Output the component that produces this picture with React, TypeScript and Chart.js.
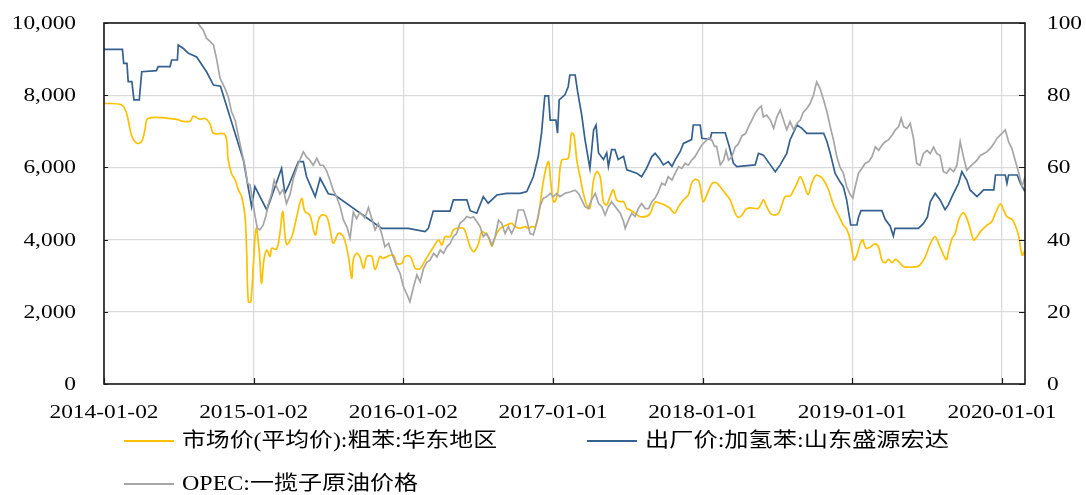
import React, { useEffect, useRef } from "react";
import { Chart, registerables } from "chart.js";

Chart.register(...registerables);

// x values are days elapsed since START_DATE
const START_DATE = "2014-01-02";
const X_MAX_DAY = 2246;

const tickDates = ["2014-01-02", "2015-01-02", "2016-01-02", "2017-01-01", "2018-01-01", "2019-01-01", "2020-01-01"];
const leftTicks = [0, 2000, 4000, 6000, 8000, 10000];
const rightTicks = [0, 20, 40, 60, 80, 100];

const seriesNames = ["市场价(平均价):粗苯:华东地区", "出厂价:加氢苯:山东盛源宏达", "OPEC:一揽子原油价格"];
const seriesColors = ["#FFC000", "#34618F", "#A6A6A6"];

// 市场价(平均价):粗苯:华东地区 — [day, yuan/t]
const crudeBenzene: [number, number][] = [
  [0, 7775], [43, 7730], [55, 7500], [67, 6900], [80, 6670], [92, 6720], [100, 7050], [108, 7360], [177, 7330], [190, 7280],
  [210, 7280], [218, 7420], [234, 7330], [246, 7360], [258, 7220], [267, 6945], [295, 6910], [303, 6200], [311, 5830], [320, 5650],
  [328, 5370], [336, 5180], [344, 4635], [348, 3620], [352, 2280], [358, 2280], [364, 3250], [371, 4310], [379, 3620], [384, 2790],
  [390, 3440], [397, 3710], [405, 3530], [409, 3760], [421, 3740], [429, 4180], [436, 4775], [445, 3870], [458, 4080], [470, 4635],
  [482, 5140], [490, 4775], [502, 4680], [515, 4130], [523, 4545], [531, 4680], [543, 4635], [551, 4310], [559, 3900], [572, 4175],
  [584, 4080], [596, 3530], [604, 2930], [608, 3440], [616, 3620], [624, 3530], [633, 3200], [641, 3530], [653, 3530], [661, 3170],
  [673, 3530], [681, 3480], [694, 3550], [706, 3570], [714, 3340], [726, 3340], [734, 3530], [747, 3530], [759, 3200], [771, 3200],
  [779, 3340], [791, 3570], [804, 3800], [816, 3990], [824, 3850], [832, 4080], [844, 4080], [852, 4270], [860, 4310], [877, 4310],
  [885, 4080], [893, 3800], [902, 3665], [913, 3880], [921, 4220], [929, 4175], [937, 4080], [946, 3820], [954, 4080], [966, 4310],
  [982, 4405], [994, 4450], [1002, 4360], [1015, 4310], [1027, 4360], [1035, 4310], [1043, 4360], [1051, 4360], [1059, 4635], [1067, 5280],
  [1075, 5835], [1084, 6160], [1089, 5650], [1096, 5050], [1102, 5100], [1108, 5420], [1116, 6200], [1132, 6250], [1140, 6945], [1146, 6900],
  [1153, 6200], [1161, 5740], [1169, 5280], [1177, 4960], [1185, 4865], [1194, 5650], [1202, 5880], [1210, 5740], [1218, 5050], [1226, 4960],
  [1234, 5190], [1242, 5375], [1250, 5100], [1259, 5050], [1267, 5050], [1275, 4865], [1283, 4820], [1295, 4730], [1307, 4635], [1324, 4650],
  [1332, 4730], [1344, 5050], [1352, 5020], [1368, 4960], [1380, 4870], [1391, 4730], [1401, 4910], [1413, 5100], [1425, 5240], [1433, 5560],
  [1441, 5670], [1451, 5610], [1458, 5190], [1462, 5050], [1470, 5240], [1482, 5540], [1492, 5580], [1502, 5470], [1515, 5280], [1527, 5100],
  [1539, 4730], [1547, 4615], [1556, 4680], [1565, 4840], [1576, 4880], [1596, 4870], [1608, 5100], [1616, 4910], [1625, 4730], [1635, 4680],
  [1645, 4730], [1653, 4960], [1661, 5190], [1673, 5210], [1682, 5375], [1690, 5560], [1698, 5740], [1706, 5560], [1717, 5250], [1726, 5560],
  [1736, 5780], [1747, 5740], [1755, 5650], [1767, 5375], [1779, 4960], [1792, 4660], [1803, 4400], [1811, 4300], [1820, 3990], [1829, 3435],
  [1836, 3570], [1844, 3880], [1850, 3990], [1858, 3760], [1868, 3790], [1880, 3880], [1889, 3790], [1897, 3435], [1905, 3360], [1913, 3450],
  [1922, 3360], [1930, 3450], [1938, 3390], [1950, 3250], [1982, 3250], [1990, 3300], [2003, 3530], [2015, 3880], [2027, 4080], [2039, 3790],
  [2054, 3450], [2059, 3660], [2068, 4030], [2076, 4175], [2084, 4540], [2095, 4745], [2104, 4590], [2112, 4310], [2121, 3990], [2129, 4080],
  [2137, 4220], [2154, 4405], [2165, 4500], [2174, 4730], [2186, 4985], [2194, 4820], [2202, 4635], [2214, 4560], [2222, 4405], [2231, 4080],
  [2239, 3570], [2246, 3710],
];

// 出厂价:加氢苯:山东盛源宏达 — [day, yuan/t]
const hydroBenzene: [number, number][] = [
  [0, 9270], [45, 9270], [48, 8880], [56, 8880], [59, 8375], [68, 8375], [73, 7870], [86, 7870], [92, 8650], [128, 8680],
  [132, 8790], [161, 8790], [165, 8975], [179, 8975], [181, 9390], [193, 9300], [206, 9160], [226, 9060], [250, 8650], [267, 8280],
  [284, 8250], [340, 6200], [360, 4910], [368, 5465], [397, 4820], [433, 5975], [441, 5280], [449, 5465], [474, 6160], [486, 6160],
  [494, 5740], [515, 5190], [527, 5700], [547, 5270], [563, 5235], [677, 4310], [742, 4310], [783, 4220], [791, 4310], [803, 4790],
  [844, 4790], [852, 5100], [885, 5100], [893, 4800], [909, 4730], [925, 5190], [937, 5010], [958, 5235], [982, 5280], [1015, 5280],
  [1031, 5330], [1047, 5740], [1059, 6300], [1067, 6950], [1075, 7980], [1084, 7980], [1088, 7310], [1102, 7310], [1106, 6950], [1110, 7870],
  [1124, 8010], [1132, 8235], [1136, 8560], [1149, 8560], [1155, 8100], [1165, 7450], [1173, 6770], [1185, 5975], [1194, 7035], [1200, 7170],
  [1206, 6400], [1218, 6220], [1226, 6400], [1230, 6030], [1238, 6490], [1246, 6490], [1254, 6220], [1267, 6310], [1275, 5930], [1299, 5840],
  [1311, 5740], [1323, 5975], [1336, 6300], [1344, 6390], [1356, 6220], [1364, 6070], [1376, 6160], [1385, 6030], [1393, 6210], [1405, 6435],
  [1413, 6665], [1433, 6770], [1437, 7175], [1454, 7175], [1458, 6805], [1478, 6780], [1482, 6960], [1515, 6960], [1526, 6530], [1535, 6110],
  [1543, 6020], [1588, 6070], [1596, 6390], [1608, 6340], [1625, 6070], [1637, 5880], [1649, 6070], [1665, 6390], [1673, 6760], [1690, 7175],
  [1702, 7080], [1714, 6945], [1755, 6945], [1763, 6720], [1771, 6390], [1783, 5835], [1795, 5600], [1803, 5465], [1811, 5100], [1821, 4405],
  [1836, 4405], [1840, 4620], [1846, 4800], [1897, 4800], [1905, 4560], [1917, 4380], [1925, 4100], [1929, 4310], [1986, 4310], [1998, 4440],
  [2008, 4620], [2015, 5050], [2027, 5280], [2039, 5100], [2051, 4830], [2059, 4960], [2068, 5190], [2076, 5375], [2084, 5560], [2092, 5880],
  [2104, 5650], [2112, 5375], [2129, 5190], [2145, 5375], [2170, 5375], [2174, 5790], [2198, 5790], [2202, 5560], [2206, 5790], [2227, 5790],
  [2235, 5560], [2246, 5330],
];

// OPEC:一揽子原油价格 — [day, USD/bbl] (right axis)
const opecBasket: [number, number][] = [
  [0, 105.5], [30, 104.5], [60, 104], [90, 104.5], [120, 105], [150, 107], [170, 109], [190, 106], [210, 103], [226, 100.4],
  [242, 98], [250, 95.8], [258, 95], [267, 93.9], [275, 89.8], [283, 84.7], [289, 83.3], [295, 81.9], [303, 79.6], [311, 75.4],
  [320, 73], [328, 68.5], [336, 64.3], [344, 60.2], [350, 55.6], [356, 55.2], [362, 51], [368, 46.8], [374, 43.1], [380, 42.7],
  [388, 44], [395, 46.6], [400, 49.6], [409, 52.8], [415, 56.5], [421, 54.7], [429, 52.6], [437, 54], [445, 50], [454, 52.6],
  [462, 57], [474, 61.1], [486, 64.3], [494, 62.9], [502, 62], [510, 60.6], [519, 62.5], [527, 60.6], [535, 60.6], [543, 59],
  [551, 56.5], [559, 53.7], [567, 51.9], [576, 49.1], [584, 45.4], [592, 43.6], [600, 40.4], [608, 47.6], [616, 45.8], [624, 47.6],
  [636, 46], [645, 48.9], [653, 45.8], [661, 42.7], [669, 44.5], [677, 41.7], [685, 38], [694, 39], [702, 36.2], [714, 32.5],
  [722, 30.7], [730, 27], [738, 25], [746, 22.8], [755, 27], [763, 30.2], [771, 28.3], [779, 31.9], [787, 33.7], [795, 34.3],
  [804, 36.2], [812, 35.2], [820, 37.1], [828, 36.2], [836, 38], [844, 38.9], [852, 40.8], [860, 41.7], [868, 44.5], [877, 45.4],
  [885, 46.4], [893, 46], [901, 46.3], [909, 45], [917, 43.6], [925, 40.8], [933, 41.7], [941, 39.9], [946, 38.5], [954, 40.8],
  [962, 45.4], [970, 44.5], [978, 41.7], [986, 43.6], [994, 41.7], [1002, 43.6], [1010, 48.2], [1023, 48.2], [1031, 45.4], [1039, 41.7],
  [1047, 41.3], [1055, 44.5], [1063, 49.1], [1071, 51.4], [1080, 51.9], [1088, 52.8], [1096, 51.9], [1104, 52.8], [1112, 51.9], [1124, 52.8],
  [1136, 53.2], [1149, 53.7], [1157, 52.8], [1165, 51], [1173, 49.1], [1181, 48.6], [1189, 51], [1198, 52.8], [1206, 50], [1214, 49.1],
  [1222, 46.8], [1230, 49.1], [1238, 50.5], [1250, 48.6], [1259, 47.3], [1267, 45], [1271, 43.1], [1279, 45.4], [1287, 47.3], [1295, 46.4],
  [1303, 48.6], [1311, 50], [1320, 48.6], [1328, 48.6], [1336, 50.5], [1344, 51.5], [1352, 53.3], [1360, 55.6], [1368, 55.1], [1376, 57.4],
  [1385, 56.5], [1393, 58.4], [1401, 60.2], [1409, 59.7], [1417, 61.1], [1425, 60.6], [1433, 62], [1441, 62.9], [1450, 64.7], [1458, 66.2],
  [1466, 67.1], [1474, 68.1], [1482, 67.6], [1489, 65.8], [1494, 65.8], [1503, 60.7], [1511, 62], [1517, 64.7], [1523, 62], [1531, 62.9],
  [1539, 65.6], [1547, 66.5], [1556, 68.8], [1564, 69.3], [1572, 71.3], [1580, 73.1], [1588, 75], [1596, 76.3], [1603, 77], [1608, 74],
  [1616, 74.5], [1625, 73.1], [1633, 70.8], [1641, 74], [1649, 75.9], [1657, 73.1], [1665, 70.4], [1673, 72.7], [1682, 70.4], [1690, 72.2],
  [1698, 73.1], [1706, 75.4], [1714, 76.3], [1722, 77.7], [1730, 80], [1738, 83.7], [1746, 81.9], [1755, 78.6], [1763, 75.4], [1771, 71.3],
  [1779, 67.6], [1787, 63], [1795, 60], [1803, 58.4], [1811, 54.7], [1820, 52.4], [1826, 51.5], [1832, 54.7], [1840, 58.4], [1848, 59.7],
  [1856, 61.1], [1865, 61.6], [1873, 63], [1881, 65.7], [1889, 64.7], [1897, 66.1], [1905, 67.1], [1913, 67.6], [1922, 69], [1930, 70.4],
  [1938, 71.3], [1944, 73.6], [1950, 71.3], [1958, 70.8], [1966, 72.2], [1974, 68.1], [1982, 61.1], [1990, 60.6], [1998, 63.8], [2007, 64.7],
  [2015, 63.8], [2023, 65.6], [2031, 63.8], [2039, 63.3], [2047, 58.8], [2055, 58.4], [2063, 59.7], [2072, 58.8], [2080, 60.6], [2088, 67.1],
  [2096, 62.9], [2104, 59.2], [2112, 60.2], [2121, 61.1], [2129, 62], [2137, 63.3], [2145, 63.8], [2153, 64.3], [2161, 65.2], [2170, 66.6],
  [2178, 68.1], [2186, 69], [2198, 70.4], [2206, 67.1], [2214, 65.2], [2222, 62], [2231, 58.4], [2239, 54.7], [2246, 57.5],
];

function dayOf(s: string): number {
  const [y, m, d] = s.split("-").map(Number);
  const [y0, m0, d0] = START_DATE.split("-").map(Number);
  return Math.round((Date.UTC(y, m - 1, d) - Date.UTC(y0, m0 - 1, d0)) / 86400000);
}
const tickDays = tickDates.map(dayOf);

const TICK_FONT = '19px "Liberation Serif", "Times New Roman", serif';
const LEGEND_FONT = '20px "Liberation Serif", "Noto Sans CJK SC", serif';
const STRETCH = 1.23;

function stretchedText(ctx: CanvasRenderingContext2D, text: string, x: number, y: number, align: CanvasTextAlign, sx: number) {
  ctx.save();
  ctx.translate(x, y);
  ctx.scale(sx, 1);
  ctx.textAlign = align;
  ctx.fillText(text, 0, 0);
  ctx.restore();
}

const framePlugin = {
  id: "frame",
  afterDatasetsDraw(chart: any) {
    const { ctx, chartArea } = chart;
    const { left, top, right, bottom } = chartArea;
    const yl = chart.scales.y;
    const yr = chart.scales.y1;
    const xs = chart.scales.x;
    ctx.save();
    ctx.strokeStyle = "#1a1a1a";
    ctx.lineWidth = 1.6;
    ctx.strokeRect(left, top, right - left, bottom - top);
    ctx.lineWidth = 1.2;
    ctx.beginPath();
    leftTicks.forEach((v) => {
      const p = Math.round(yl.getPixelForValue(v)) + 0.5;
      ctx.moveTo(left, p);
      ctx.lineTo(left + 4, p);
    });
    rightTicks.forEach((v) => {
      const p = Math.round(yr.getPixelForValue(v)) + 0.5;
      ctx.moveTo(right - 6, p);
      ctx.lineTo(right, p);
    });
    tickDays.forEach((d) => {
      const p = Math.round(xs.getPixelForValue(d)) + 0.5;
      ctx.moveTo(p, bottom);
      ctx.lineTo(p, bottom - 6);
    });
    ctx.stroke();

    // tick labels (horizontally stretched like the source rendering)
    ctx.fillStyle = "#000";
    ctx.font = TICK_FONT;
    ctx.textBaseline = "middle";
    leftTicks.forEach((v) => {
      stretchedText(ctx, v.toLocaleString("en-US"), left - 28, yl.getPixelForValue(v) + 1, "right", STRETCH);
    });
    rightTicks.forEach((v) => {
      stretchedText(ctx, String(v), right + 22, yr.getPixelForValue(v) + 1, "left", STRETCH);
    });
    tickDays.forEach((d, i) => {
      stretchedText(ctx, tickDates[i], xs.getPixelForValue(d), bottom + 29, "center", STRETCH);
    });
    ctx.restore();
  },
};

// legend entries: sample line start, row centre, text width
const legendItems = [
  { i: 0, x: 124, y: 441, w: 315 },
  { i: 1, x: 587, y: 441, w: 304 },
  { i: 2, x: 124, y: 484, w: 236 },
];

const legendPlugin = {
  id: "customLegend",
  afterDraw(chart: any) {
    const { ctx } = chart;
    ctx.save();
    ctx.font = LEGEND_FONT;
    ctx.textBaseline = "middle";
    legendItems.forEach(({ i, x, y, w }) => {
      ctx.strokeStyle = seriesColors[i];
      ctx.lineWidth = 2.2;
      ctx.beginPath();
      ctx.moveTo(x, y);
      ctx.lineTo(x + 50, y);
      ctx.stroke();
      ctx.fillStyle = "#000";
      const natural = ctx.measureText(seriesNames[i]).width;
      stretchedText(ctx, seriesNames[i], x + 58, y + 1, "left", w / natural);
    });
    ctx.restore();
  },
};

export default function App() {
  const canvasRef = useRef<HTMLCanvasElement | null>(null);

  useEffect(() => {
    if (!canvasRef.current) return;
    const toPts = (arr: [number, number][]) => arr.map(([x, y]) => ({ x, y }));
    const chart = new Chart(canvasRef.current, {
      type: "line",
      data: {
        datasets: [
          {
            label: seriesNames[0],
            data: toPts(crudeBenzene),
            borderColor: seriesColors[0],
            borderWidth: 1.7,
            pointRadius: 0,
            tension: 0.35,
            yAxisID: "y",
            order: 3,
          },
          {
            label: seriesNames[1],
            data: toPts(hydroBenzene),
            borderColor: seriesColors[1],
            borderWidth: 1.7,
            pointRadius: 0,
            tension: 0,
            yAxisID: "y",
            order: 2,
          },
          {
            label: seriesNames[2],
            data: toPts(opecBasket),
            borderColor: seriesColors[2],
            borderWidth: 1.7,
            pointRadius: 0,
            tension: 0,
            yAxisID: "y1",
            order: 1,
          },
        ],
      },
      options: {
        animation: false,
        responsive: false,
        layout: { padding: { top: 23, left: 0, right: 0, bottom: 0 } },
        plugins: { legend: { display: false }, tooltip: { enabled: false } },
        scales: {
          x: {
            type: "linear",
            min: 0,
            max: X_MAX_DAY,
            afterBuildTicks: (ax: any) => {
              ax.ticks = tickDays.map((v) => ({ value: v }));
            },
            afterFit: (ax: any) => {
              ax.height = 111;
              ax.paddingLeft = 0;
              ax.paddingRight = 0;
            },
            ticks: { display: false, autoSkip: false, maxRotation: 0 },
            grid: { color: "#D9D9D9", lineWidth: 1.2, drawTicks: false },
            border: { display: false },
          },
          y: {
            position: "left",
            min: 0,
            max: 10000,
            afterBuildTicks: (ax: any) => {
              ax.ticks = leftTicks.map((v) => ({ value: v }));
            },
            afterFit: (ax: any) => {
              ax.width = 104;
            },
            ticks: { display: false },
            grid: { color: "#D9D9D9", lineWidth: 1.2, drawTicks: false },
            border: { display: false },
          },
          y1: {
            position: "right",
            min: 0,
            max: 100,
            afterBuildTicks: (ax: any) => {
              ax.ticks = rightTicks.map((v) => ({ value: v }));
            },
            afterFit: (ax: any) => {
              ax.width = 61;
            },
            ticks: { display: false },
            grid: { drawOnChartArea: false, drawTicks: false },
            border: { display: false },
          },
        },
      },
      plugins: [framePlugin, legendPlugin],
    });
    return () => chart.destroy();
  }, []);

  return (
    <div style={{ position: "absolute", left: 0, top: 0, width: 1086, height: 495, background: "#fff" }}>
      <canvas ref={canvasRef} width={1086} height={495} style={{ display: "block" }} />
    </div>
  );
}
